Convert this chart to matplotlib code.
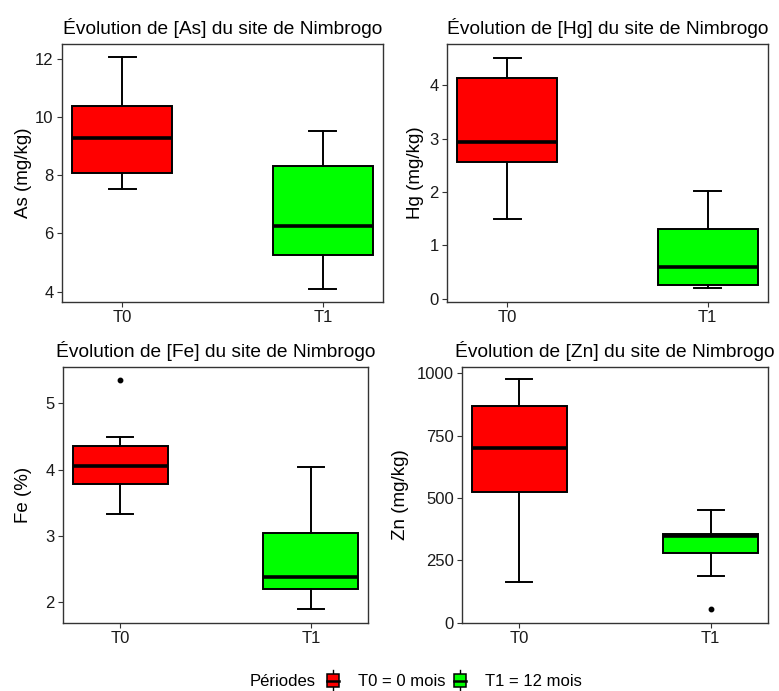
import matplotlib
matplotlib.use('Agg')
import matplotlib.pyplot as plt
from matplotlib.patches import Rectangle
from matplotlib.lines import Line2D
from matplotlib.legend_handler import HandlerBase

plt.rcParams['font.family'] = ['Liberation Sans', 'DejaVu Sans']

# five-number summaries: whisker low, Q1, median, Q3, whisker high
periods = ['T0', 'T1']
period_labels = ['T0 = 0 mois', 'T1 = 12 mois']
period_colors = ['#ff0000', '#00ff00']

as_t0 = [7.53, 8.06, 9.28, 10.39, 12.06]
as_t1 = [4.09, 5.27, 6.25, 8.33, 9.51]
hg_t0 = [1.50, 2.555, 2.94, 4.14, 4.51]
hg_t1 = [0.21, 0.25, 0.60, 1.30, 2.01]
fe_t0 = [3.33, 3.79, 4.06, 4.36, 4.49]
fe_t1 = [1.90, 2.20, 2.38, 3.05, 4.04]
zn_t0 = [162, 525, 702, 870, 978]
zn_t1 = [186, 278, 346, 355, 452]

# outliers
as_out = [[], []]
hg_out = [[], []]
fe_out = [[5.36], []]
zn_out = [[], [54]]

panels = [
    ('As', 'As (mg/kg)', [as_t0, as_t1], as_out, [4, 6, 8, 10, 12], (3.65, 12.5)),
    ('Hg', 'Hg (mg/kg)', [hg_t0, hg_t1], hg_out, [0, 1, 2, 3, 4], (-0.06, 4.77)),
    ('Fe', 'Fe (%)', [fe_t0, fe_t1], fe_out, [2, 3, 4, 5], (1.69, 5.55)),
    ('Zn', 'Zn (mg/kg)', [zn_t0, zn_t1], zn_out, [0, 250, 500, 750, 1000], (-2, 1025)),
]

W, H = 779, 691
# panel frames in pixels (left, top, right, bottom) and y-label right edge
boxes_px = [
    (62, 44, 383, 302, 32),
    (447, 44, 768, 302, 424),
    (63, 367, 368, 623, 32),
    (462, 367, 768, 623, 409),
]


class BoxKey(HandlerBase):
    def create_artists(self, legend, orig_handle, xdescent, ydescent,
                       width, height, fontsize, trans):
        x0, y0 = -xdescent, -ydescent
        cx = x0 + width / 2
        bw = width * 0.72
        bh = height * 1.1
        by = y0 + height / 2 - bh / 2
        wl = Line2D([cx, cx], [y0 - height * 0.4, y0 + height * 1.4],
                    color='black', lw=1.0, transform=trans)
        rect = Rectangle((cx - bw / 2, by), bw, bh, facecolor=orig_handle.get_facecolor(),
                         edgecolor='black', lw=1.1, transform=trans)
        med = Line2D([cx - bw / 2, cx + bw / 2], [y0 + height / 2] * 2,
                     color='black', lw=1.8, transform=trans)
        return [wl, rect, med]


fig = plt.figure(figsize=(W / 100, H / 100), dpi=100)

for (elem, ylabel, stats5, outs, ticks, ylim), (l, t, r, b, lab_x) in zip(panels, boxes_px):
    ax = fig.add_axes([l / W, 1 - b / H, (r - l) / W, (b - t) / H])
    stats = []
    for s, o, name in zip(stats5, outs, periods):
        stats.append(dict(whislo=s[0], q1=s[1], med=s[2], q3=s[3], whishi=s[4],
                          fliers=o, label=name))
    bp = ax.bxp(stats, positions=[1, 2], widths=0.5, patch_artist=True,
                capwidths=0.135, showfliers=True,
                boxprops=dict(edgecolor='black', linewidth=1.4),
                medianprops=dict(color='black', linewidth=2.6),
                whiskerprops=dict(color='black', linewidth=1.4),
                capprops=dict(color='black', linewidth=1.4),
                flierprops=dict(marker='o', markerfacecolor='black',
                                markeredgecolor='black', markersize=3.2))
    for patch, c in zip(bp['boxes'], period_colors):
        patch.set_facecolor(c)
    ax.set_xlim(0.7, 2.3)
    ax.set_ylim(*ylim)
    ax.set_yticks(ticks)
    ax.set_xticks([1, 2], periods)
    ax.tick_params(labelsize=12, colors='#333333', length=3.5, width=0.8,
                   labelcolor='#1a1a1a', pad=2.5)
    for sp in ax.spines.values():
        sp.set_color('#333333')
        sp.set_linewidth(1.0)
    ax.set_ylabel(ylabel, fontsize=13.5)
    ax.yaxis.set_label_coords((lab_x - l) / (r - l), 0.5)
    ax.set_title(f'Évolution de [{elem}] du site de Nimbrogo', fontsize=13.8, pad=7)

handles = [Rectangle((0, 0), 1, 1, facecolor=c, edgecolor='black') for c in period_colors]
fig.text(250 / W, 1 - 682 / H, 'Périodes', fontsize=12, va='center', ha='left')
fig.legend(handles, period_labels, handler_map={Rectangle: BoxKey()},
           loc='center left', bbox_to_anchor=(316 / W, 1 - 682 / H), ncol=2,
           frameon=False, fontsize=12, handlelength=1.0, handleheight=0.75,
           handletextpad=1.0, columnspacing=0.4, borderpad=0)

fig.savefig('out.png', dpi=100)
